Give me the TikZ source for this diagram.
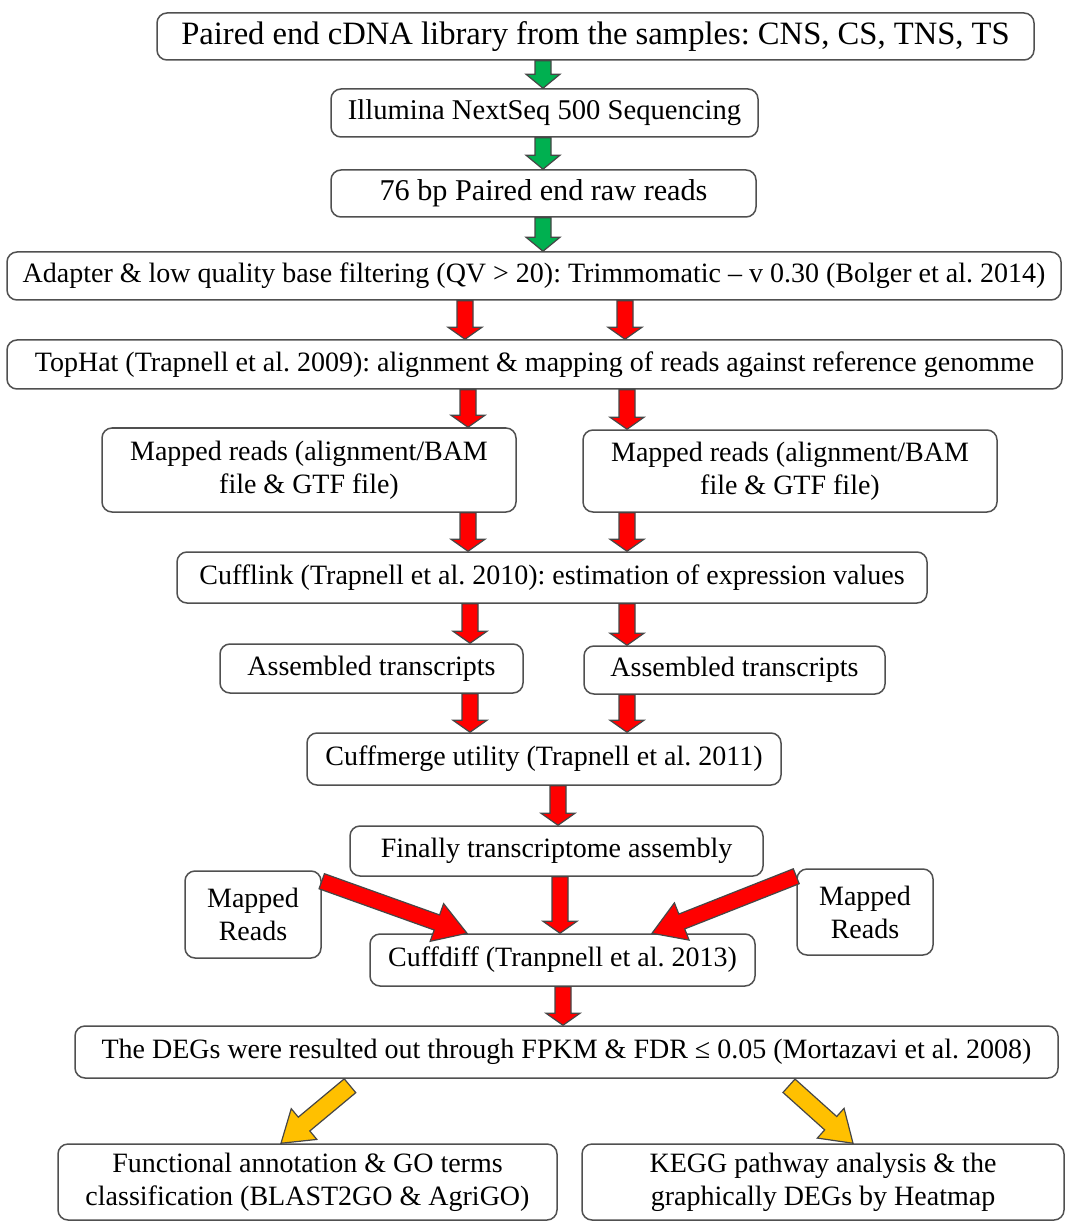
\documentclass[tikz,border=0pt]{standalone}
\usepackage{fontspec}
\setmainfont{Liberation Serif}
\usetikzlibrary{calc}
\definecolor{boxline}{RGB}{80,80,80}
\definecolor{arrline}{RGB}{70,70,70}
\definecolor{agreen}{RGB}{0,176,80}
\definecolor{ared}{RGB}{255,0,0}
\definecolor{aorange}{RGB}{255,192,0}
\frenchspacing
% #1 from, #2 to, #3 colour, #4 shaft half width, #5 head half width, #6 head length
\newcommand{\blockarrow}[6]{%
  \coordinate (baa) at (#1);
  \coordinate (bab) at (#2);
  \coordinate (bah) at ($(bab)!#6!(baa)$);
  \filldraw[fill=#3, draw=arrline, line width=0.6pt, line join=miter]
    ($(baa)!#4!90:(bab)$) -- ($(bah)!#4!90:(bab)$) -- ($(bah)!#5!90:(bab)$) --
    (bab) -- ($(bah)!#5!-90:(bab)$) -- ($(bah)!#4!-90:(bab)$) --
    ($(baa)!#4!-90:(bab)$) -- cycle;
}
\begin{document}
\begin{tikzpicture}[x=0.5pt, y=-0.5pt,
  box/.style={draw=boxline, line width=0.75pt, rounded corners=5pt, fill=white,
    align=center, inner sep=0pt, font=\fontsize{14}{16.5}\selectfont},
  sz/.style 2 args={minimum width=#1*0.5pt, minimum height=#2*0.5pt}]
\useasboundingbox (0,0) rectangle (1068,1224);

\node[box, sz={877}{47}, font=\fontsize{16.3}{18}\selectfont] (b1) at (595.5,36.5) {Paired end cDNA library from the samples: CNS, CS, TNS, TS};
\node[box, sz={427}{48}, font=\fontsize{14.3}{16.5}\selectfont] (b2) at (544.5,113) {Illumina NextSeq 500 Sequencing};
\node[box, sz={425}{47}, font=\fontsize{15.1}{17}\selectfont] (b3) at (543.5,193.5) {76 bp Paired end raw reads};
\node[box, sz={1054}{48}] (b4) at (534,276) {Adapter \& low quality base filtering (QV > 20): Trimmomatic – v 0.30 (Bolger et al. 2014)};
\node[box, sz={1055}{49}] (b5) at (534.5,364.5) {TopHat (Trapnell et al. 2009): alignment \& mapping of reads against reference genomme};
\node[box, sz={414}{84}] (m1) at (309,470) {Mapped reads (alignment/BAM\\file \& GTF file)};
\node[box, sz={414}{82}] (m2) at (790,471) {Mapped reads (alignment/BAM\\file \& GTF file)};
\node[box, sz={750}{51}] (cl) at (552,577.5) {Cufflink (Trapnell et al. 2010): estimation of expression values};
\node[box, sz={303}{49}] (a1) at (371.5,668.5) {Assembled transcripts};
\node[box, sz={301}{48}] (a2) at (734.5,670) {Assembled transcripts};
\node[box, sz={474}{52}] (cm) at (544,759) {Cuffmerge utility (Trapnell et al. 2011)};
\node[box, sz={413}{50}] (fi) at (556.5,851) {Finally transcriptome assembly};
\node[box, sz={136}{87}] (r1) at (253,914.5) {Mapped\\Reads};
\node[box, sz={136}{86}] (r2) at (865,912) {Mapped\\Reads};
\node[box, sz={385}{52}] (cd) at (562.5,960) {Cuffdiff (Tranpnell et al. 2013)};
\node[box, sz={983}{52}] (dg) at (566.5,1052) {The DEGs were resulted out through FPKM \& FDR ≤ 0.05 (Mortazavi et al. 2008)};
\node[box, sz={499}{76}] (f1) at (307.5,1182) {Functional annotation \& GO terms\\classification (BLAST2GO \& AgriGO)};
\node[box, sz={482}{76}] (f2) at (823,1182) {KEGG pathway analysis \& the\\graphically DEGs by Heatmap};

% green arrows
\blockarrow{543,0 |- b1.south}{543,0 |- b2.north}{agreen}{4pt}{8.5pt}{7pt}
\blockarrow{543,0 |- b2.south}{543,0 |- b3.north}{agreen}{4pt}{8.5pt}{7pt}
\blockarrow{543,0 |- b3.south}{543,0 |- b4.north}{agreen}{4pt}{8.5pt}{7pt}
% red vertical arrows
\blockarrow{465,0 |- b4.south}{465,0 |- b5.north}{ared}{4pt}{8.5pt}{6pt}
\blockarrow{625,0 |- b4.south}{625,0 |- b5.north}{ared}{4pt}{8.5pt}{6pt}
\blockarrow{468,0 |- b5.south}{468,0 |- m1.north}{ared}{4pt}{8.5pt}{6pt}
\blockarrow{627,0 |- b5.south}{627,0 |- m2.north}{ared}{4pt}{8.5pt}{6pt}
\blockarrow{468,0 |- m1.south}{468,0 |- cl.north}{ared}{4pt}{8.5pt}{6pt}
\blockarrow{627,0 |- m2.south}{627,0 |- cl.north}{ared}{4pt}{8.5pt}{6pt}
\blockarrow{470,0 |- cl.south}{470,0 |- a1.north}{ared}{4pt}{8.5pt}{6pt}
\blockarrow{627,0 |- cl.south}{627,0 |- a2.north}{ared}{4pt}{8.5pt}{6pt}
\blockarrow{470,0 |- a1.south}{470,0 |- cm.north}{ared}{4pt}{8.5pt}{6pt}
\blockarrow{627,0 |- a2.south}{627,0 |- cm.north}{ared}{4pt}{8.5pt}{6pt}
\blockarrow{558,0 |- cm.south}{558,0 |- fi.north}{ared}{4pt}{8.5pt}{6pt}
\blockarrow{560,0 |- fi.south}{560,0 |- cd.north}{ared}{4pt}{8.5pt}{6pt}
\blockarrow{563,0 |- cd.south}{563,0 |- dg.north}{ared}{4pt}{8.5pt}{6pt}
% red diagonal arrows
\blockarrow{$(r1.north east)+(0,11)$}{467,0 |- cd.north}{ared}{4pt}{10pt}{16pt}
\blockarrow{$(r2.north west)+(0,8)$}{652,0 |- cd.north}{ared}{4pt}{10pt}{16pt}
% orange arrows
\blockarrow{$(350,0 |- dg.south)+(0,7)$}{281,0 |- f1.north}{aorange}{4.5pt}{10pt}{15pt}
\blockarrow{$(789,0 |- dg.south)+(0,7)$}{853,0 |- f2.north}{aorange}{4.5pt}{10pt}{15pt}
\end{tikzpicture}
\end{document}
